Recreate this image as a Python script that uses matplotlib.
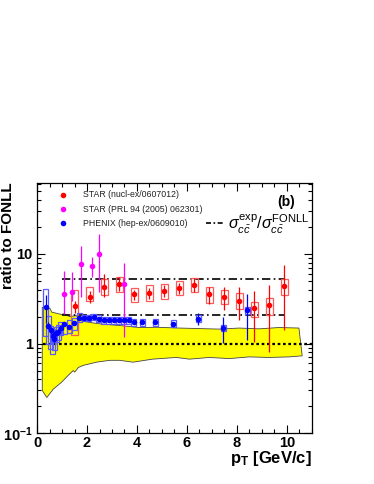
import matplotlib
matplotlib.use("Agg")
import numpy as np
import matplotlib.pyplot as plt
from matplotlib.ticker import FixedLocator, MultipleLocator, NullFormatter

plt.rcParams['font.family'] = ['Liberation Sans', 'DejaVu Sans']
plt.rcParams['mathtext.fontset'] = 'custom'
plt.rcParams['mathtext.rm'] = 'Liberation Sans'
plt.rcParams['mathtext.it'] = 'Liberation Sans:italic'
plt.rcParams['mathtext.bf'] = 'Liberation Sans:bold'

# STAR (nucl-ex/0607012)
star_pt = [1.5, 2.1, 2.7, 3.3, 3.9, 4.5, 5.1, 5.7, 6.3, 6.9, 7.5, 8.1, 8.7, 9.3, 9.9]
star_y = [2.61, 3.35, 4.33, 4.65, 3.53, 3.65, 3.88, 4.19, 4.56, 3.59, 3.35, 3.02, 2.48, 2.71, 4.41]
star_stat_lo = [2.22, 2.87, 3.29, 3.91, 3.10, 3.18, 3.35, 3.62, 3.74, 2.78, 2.34, 1.81, 1.03, 0.81, 1.40]
star_stat_hi = [3.02, 3.91, 6.05, 5.51, 4.01, 4.22, 4.45, 4.80, 5.37, 4.26, 4.33, 4.26, 3.91, 4.56, 7.44]
star_box_lo = [1.26, 3.02, 3.44, 3.74, 2.89, 3.02, 3.16, 3.44, 3.74, 2.87, 2.73, 2.44, 1.97, 2.11, 3.50]
star_box_hi = [3.98, 4.26, 5.28, 5.51, 4.19, 4.45, 4.65, 4.97, 5.37, 4.26, 3.98, 3.65, 2.94, 3.24, 5.28]

# STAR (PRL 94 (2005) 062301)
star05_pt = [1.08, 1.38, 1.76, 2.18, 2.48, 3.5]
star05_y = [3.59, 3.81, 7.8, 7.3, 10.1, 4.6]
star05_lo = [2.16, 3.0, 3.3, 5.5, 3.74, 1.18]
star05_hi = [6.5, 6.25, 12.4, 9.35, 16.5, 7.9]

# PHENIX (hep-ex/0609010)
phenix_pt = [0.35, 0.45, 0.55, 0.62, 0.68, 0.76, 0.85, 0.94, 1.09, 1.29, 1.49, 1.69, 1.88,
             2.07, 2.27, 2.47, 2.67, 2.87, 3.07, 3.27, 3.47, 3.67, 3.88, 4.21, 4.73, 5.46,
             6.45, 7.45, 8.42]
phenix_y = [2.59, 1.59, 1.40, 1.23, 1.13, 1.30, 1.34, 1.50, 1.66, 1.55, 1.69, 1.94, 1.94,
            1.94, 1.97, 1.89, 1.81, 1.81, 1.81, 1.81, 1.81, 1.81, 1.73, 1.73, 1.73, 1.66,
            1.89, 1.50, 2.34]
phenix_err = [0.9, 0.15, 0.12, 0.10, 0.10, 0.10, 0.10, 0.08, 0.08, 0.07, 0.07, 0.06, 0.05,
              0.05, 0.05, 0.05, 0.05, 0.05, 0.05, 0.05, 0.05, 0.05, 0.05, 0.06, 0.06, 0.08,
              0.28, 0.48, 1.25]
phenix_box_lo = [1.23, 1.00, 0.88, 0.77, 0.85, 1.05, 1.10, 1.25, 1.29, 1.30, 1.40, 1.75, 1.78,
                 1.78, 1.81, 1.73, 1.66, 1.66, 1.66, 1.66, 1.66, 1.66, 1.59, 1.59, 1.59, 1.52,
                 1.73, 1.37, 2.15]
phenix_box_hi = [4.08, 2.05, 1.59, 1.47, 1.35, 1.55, 1.60, 1.75, 1.71, 1.85, 1.95, 2.18, 2.11,
                 2.11, 2.15, 2.06, 1.97, 1.97, 1.97, 1.97, 1.97, 1.97, 1.89, 1.89, 1.89, 1.81,
                 2.06, 1.63, 2.54]

# FONLL uncertainty band
band_upper_pt = [0.21, 0.52, 0.59, 0.78, 0.98, 1.05, 1.31, 1.58, 1.71, 2.11, 2.51, 3.31, 4.10,
                 4.77, 5.70, 6.49, 7.29, 8.09, 8.88, 9.68, 10.48]
band_upper = [2.54, 2.46, 2.24, 2.18, 2.11, 2.15, 2.00, 2.05, 1.81, 1.72, 1.66, 1.59, 1.51,
              1.52, 1.49, 1.47, 1.45, 1.49, 1.46, 1.51, 1.49]
band_lower_pt = [0.21, 0.39, 0.65, 0.98, 1.31, 1.45, 1.51, 1.65, 1.84, 2.38, 2.91, 3.31, 3.84,
                 4.62, 5.57, 6.10, 6.89, 7.69, 8.49, 9.28, 10.08, 10.61]
band_lower = [0.30, 0.25, 0.31, 0.37, 0.46, 0.50, 0.48, 0.54, 0.57, 0.62, 0.65, 0.65, 0.62,
              0.67, 0.70, 0.67, 0.70, 0.68, 0.71, 0.70, 0.71, 0.73]

# sigma_exp / sigma_FONLL levels
ratio_star = 5.28
ratio_phenix = 2.09
ratio_range = [1.0, 9.9]

fig = plt.figure(figsize=(3.74, 4.84), dpi=100)
ax = fig.add_axes([0.099, 0.105, 0.735, 0.517])
ax.set_yscale('log')
ax.set_xlim(0, 11)
ax.set_ylim(0.1, 62)

# band
poly_x = band_upper_pt + band_lower_pt[::-1]
poly_y = band_upper + band_lower[::-1]
ax.fill(poly_x, poly_y, facecolor='#ffff00', edgecolor='#444444', lw=0.6, zorder=1)

ax.hlines(1, 0.23, 11, colors='k', linestyles=(0, (1.2, 1.2)), lw=1.6, zorder=2)
for lvl in [ratio_star, ratio_phenix]:
    ax.plot(ratio_range, [lvl, lvl], color='k', lw=1.2, dashes=(5, 2, 1, 2), zorder=2)

# systematic boxes
ax.bar(star_pt, np.array(star_box_hi) - np.array(star_box_lo), bottom=star_box_lo, width=0.27,
       fill=False, edgecolor='#ff5a5a', lw=0.9, zorder=3)
ax.bar(phenix_pt, np.array(phenix_box_hi) - np.array(phenix_box_lo), bottom=phenix_box_lo,
       width=0.2, fill=False, edgecolor='#5a5aff', lw=0.9, zorder=3)

# stat errors
ax.vlines(star_pt, star_stat_lo, star_stat_hi, colors='#ff0000', lw=0.9, zorder=4)
ax.vlines(star05_pt, star05_lo, star05_hi, colors='#ff00ff', lw=0.9, zorder=4)
ax.vlines(phenix_pt, np.array(phenix_y) - np.array(phenix_err),
          np.array(phenix_y) + np.array(phenix_err), colors='#0000ff', lw=0.9, zorder=4)

ax.plot(star_pt, star_y, 'o', color='#ff0000', ms=4, mew=0, zorder=5)
ax.plot(star05_pt, star05_y, 'o', color='#ff00ff', ms=4, mew=0, zorder=5)
ax.plot(phenix_pt, phenix_y, 'o', color='#0000ff', ms=4, mew=0, zorder=5)

# legend
leg = [('STAR (nucl-ex/0607012)', '#ff0000', 0.952),
       ('STAR (PRL 94 (2005) 062301)', '#ff00ff', 0.895),
       ('PHENIX (hep-ex/0609010)', '#0000ff', 0.839)]
for label, col, yy in leg:
    ax.plot([0.093], [yy], 'o', color=col, ms=4, mew=0, transform=ax.transAxes)
    ax.text(0.166, yy, label, transform=ax.transAxes, fontsize=6.3, va='center', color='#222222')
ax.plot([0.615, 0.68], [0.84, 0.84], color='k', lw=1.2, dashes=(3, 1.5, 1, 1.5),
        transform=ax.transAxes)
ax.text(0.693, 0.836, r'$\sigma^{\rm exp}_{c\bar{c}}/\sigma^{\rm FONLL}_{c\bar{c}}$',
        transform=ax.transAxes, fontsize=11.5, va='center')
ax.text(0.905, 0.925, '(b)', transform=ax.transAxes, fontsize=10, fontweight='bold',
        ha='center', va='center')

# ticks
ax.xaxis.set_major_locator(MultipleLocator(2))
ax.xaxis.set_minor_locator(MultipleLocator(0.5))
ax.set_yticks([0.1, 1, 10])
ax.set_yticklabels([r'$\mathbf{10^{-1}}$', '1', '10'])
ax.yaxis.set_minor_locator(FixedLocator([m * 10.0 ** e for e in (-1, 0, 1) for m in range(2, 10)]))
ax.yaxis.set_minor_formatter(NullFormatter())
ax.tick_params(which='both', direction='in', top=True, right=True, labelsize=10.5)
ax.tick_params(which='major', length=6, width=0.8)
ax.tick_params(which='minor', length=3, width=0.8)
ax.tick_params(axis='x', pad=2)
ax.tick_params(axis='y', pad=3)
for lab in ax.get_xticklabels() + ax.get_yticklabels():
    lab.set_fontweight('bold')
for sp in ax.spines.values():
    sp.set_linewidth(0.9)

fig.text(8 / 374, 1 - 182 / 484, 'ratio to FONLL', rotation=90, ha='center', va='top',
         fontsize=11, fontweight='bold')
fig.text(312 / 374, 1 - 459 / 484, r'p$_{\mathbf{T}}$ [GeV/c]', ha='right', va='center',
         fontsize=12, fontweight='bold')

fig.savefig('out.png', dpi=100)
